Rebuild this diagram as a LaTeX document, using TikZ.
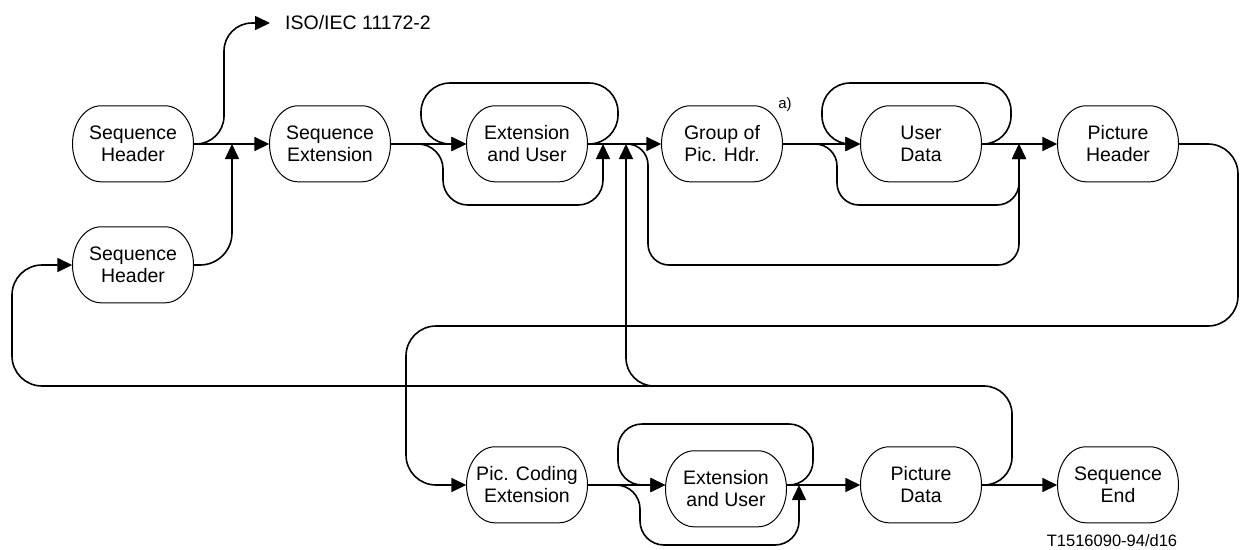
\documentclass[tikz,border=0pt]{standalone}
\usepackage{fontspec}
\setmainfont{Liberation Sans}
\usetikzlibrary{arrows.meta}
\tikzset{
blk/.style={minimum width=121pt, minimum height=76pt, inner sep=0pt, align=center, font=\fontsize{19.5}{22}\selectfont},
rim/.style={line width=1pt},
arr/.style={line width=1.6pt, -{Triangle[length=15pt,width=14pt]}}
}
\begin{document}
\begin{tikzpicture}[x=1pt,y=-1pt]
\useasboundingbox (0,0) rectangle (1241,549);
\node[blk] (sh1) at (133,144){Sequence\\Header};
\node[blk] (sext) at (330,144){Sequence\\Extension};
\node[blk] (eu1) at (527,144){Extension\\and User};
\node[blk] (gop) at (722,144){Group of\\Pic. Hdr.};
\node[blk] (ud) at (921,144){User\\Data};
\node[blk] (ph) at (1118,144){Picture\\Header};
\node[blk] (sh2) at (133,265){Sequence\\Header};
\node[blk] (pce) at (527,485){Pic. Coding\\Extension};
\node[blk] (eu2) at (726,489){Extension\\and User};
\node[blk] (pd) at (921,485){Picture\\Data};
\node[blk] (se) at (1118,485){Sequence\\End};
\foreach \n in {sh1,sext,eu1,gop,ud,ph,sh2,pce,eu2,pd,se}
  \draw[rim] (\n.north) -- ++(-32,0) arc[start angle=90, end angle=270, x radius=28.5pt, y radius=38pt]
    -- ++(64,0) arc[start angle=-90, end angle=90, x radius=28.5pt, y radius=38pt] -- cycle;
\node[anchor=west, inner sep=0pt, font=\fontsize{19.5}{22}\selectfont] (isotxt) at (285,23){ISO/IEC 11172-2};
\node[inner sep=0pt, font=\fontsize{15}{17}\selectfont] (ftn) at (785,105){a)};
\node[inner sep=0pt, font=\fontsize{16.5}{18}\selectfont] (fig) at (1112,541){T1516090-94/d16};
\coordinate (iso) at (270,23);
\coordinate (j1) at (232,144);
\coordinate (j2) at (603,144);
\coordinate (j3) at (626,144);
\coordinate (j4) at (1019,144);
\coordinate (j5) at (700,386);
\coordinate (j6) at (799,485);
\coordinate (eu2in) at (eu2.west |- pce.east);
\coordinate (eu2out) at (eu2.east |- pce.east);
\draw[arr] (sh1) -- (sext);
\draw[arr, rounded corners=28pt] (sh1.east) -- (224,144) |- (iso);
\draw[arr, rounded corners=32pt] (sh2.east) -| (j1);
\draw[arr] (sext) -- (eu1);
\draw[arr, rounded corners=25pt] (sext.east) -| (443,205) -| (j2);
\draw[arr, rounded corners=29pt] (eu1.east) -- (618,144) |- (421,83) |- (eu1.west);
\draw[arr] (eu1) -- (gop);
\draw[arr, rounded corners=21pt] (j3) -- (648,144) -- (648,265) -| (j4);
\draw[arr, rounded corners=22pt] (gop.east) -| (837,205) -| (j4);
\draw[arr] (gop) -- (ud);
\draw[arr, rounded corners=28pt] (ud.east) -- (1011,144) |- (822,83) |- (ud.west);
\draw[arr] (ud) -- (ph);
\draw[arr, rounded corners=30pt] (ph.east) -| (1238,326) -| (406,485) -- (pce.west);
\draw[arr, rounded corners=28pt] (pd.east) -| (1012,386) -| (j3);
\draw[arr, rounded corners=30pt] (j5) -| (12,265) -- (sh2.west);
\draw[arr] (pce) -- (eu2in);
\draw[arr, rounded corners=24pt] (pce.east) -| (640,545) -| (j6);
\draw[arr, rounded corners=24pt] (eu2out) -- (813,485) |- (618,424) |- (eu2in);
\draw[arr] (eu2out) -- (pd);
\draw[arr] (pd) -- (se);
\end{tikzpicture}
\end{document}
